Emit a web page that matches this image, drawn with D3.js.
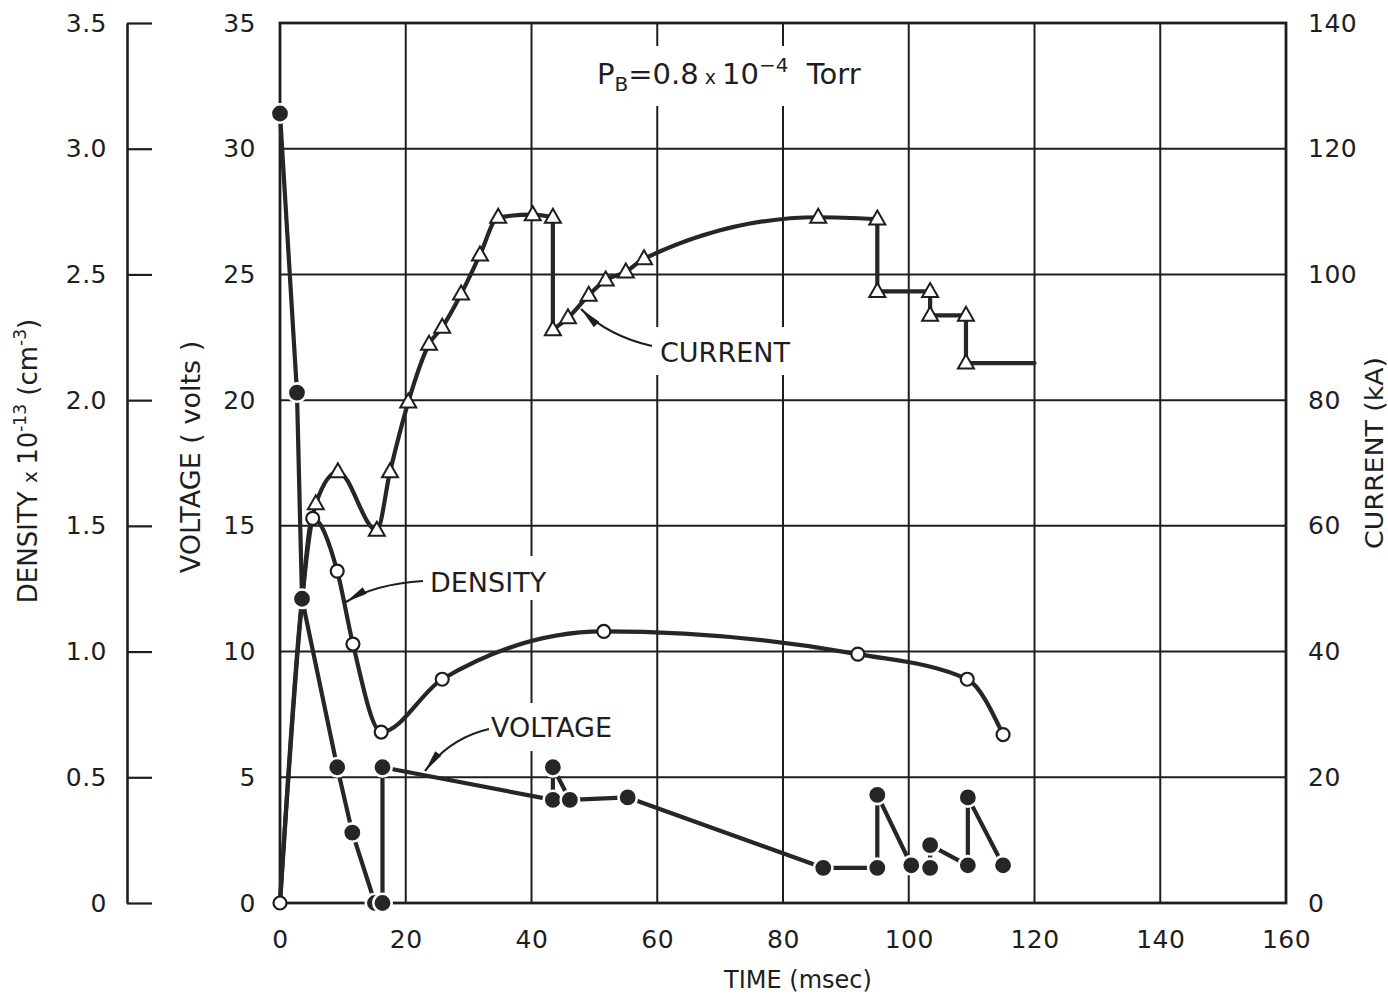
<!DOCTYPE html>
<html><head><meta charset="utf-8">
<script src="https://cdn.jsdelivr.net/npm/d3@7"></script>
<style>
html,body{margin:0;padding:0;background:#fff;}
svg{display:block;}
text{font-family:"DejaVu Sans",sans-serif;fill:#1e1e1e;}
</style></head><body>
<svg id="chart" width="1388" height="998"></svg>
<script>
// ---- axis ticks ----
const timeTicks = [0, 20, 40, 60, 80, 100, 120, 140, 160];
const voltTicks = [0, 5, 10, 15, 20, 25, 30, 35];
const densityTicks = [0, 0.5, 1.0, 1.5, 2.0, 2.5, 3.0, 3.5];
const currentTicks = [0, 20, 40, 60, 80, 100, 120, 140];

// ---- voltage (volts); null marks a break in the trace ----
const voltageTime  = [0, 2.7, 3.5, 9.1, 11.5, 15.1, null, 16.3, 16.3, 43.4, 43.4, 46.1, 55.3, 86.4, 95.0, 95.0, 100.4, null, 103.4, 103.4, 109.4, 109.4, 115.0];
const voltageValue = [31.4, 20.3, 12.1, 5.4, 2.8, 0, null, 0, 5.4, 4.1, 5.4, 4.1, 4.2, 1.4, 1.4, 4.3, 1.5, null, 1.4, 2.3, 1.5, 4.2, 1.5];

// ---- density (x 10^13 cm^-3) ----
const densityTime  = [0, 3.5, 5.2, 9.1, 11.6, 16.1, 25.8, 51.5, 91.9, 109.3, 115.0];
const densityValue = [0, 1.21, 1.53, 1.32, 1.03, 0.68, 0.89, 1.08, 0.99, 0.89, 0.67];

// ---- current (kA) ----
const currentTime  = [0, 5.7, 9.2, 15.4, 17.5, 20.4, 23.7, 25.8, 28.8, 31.8, 34.7, 40.2, 43.4, 43.4, 45.8, 49.1, 51.8, 55.0, 57.9, 85.6, 95.0, 95.0, 103.4, 103.4, 109.1, 109.1, 120.0];
const currentValue = [0, 63.5, 68.6, 59.3, 68.6, 79.7, 88.9, 91.6, 96.9, 103.1, 109.1, 109.5, 109.1, 91.2, 93.1, 96.7, 99.1, 100.4, 102.5, 109.1, 108.8, 97.3, 97.3, 93.5, 93.5, 85.9, 85.9];

const INK = "#1e1e1e";
const svg = d3.select("#chart");

const x  = d3.scaleLinear().domain([0, 160]).range([280, 1286]);
const yV = d3.scaleLinear().domain([0, 35]).range([903, 23]);
const yD = d3.scaleLinear().domain([0, 3.5]).range([903, 23]);
const yI = d3.scaleLinear().domain([0, 140]).range([903, 23]);

// ---- grid ----
const grid = svg.append("g").attr("stroke", INK).attr("stroke-width", 2);
grid.selectAll("line.v").data(timeTicks.slice(1, -1)).join("line")
  .attr("x1", d => x(d)).attr("x2", d => x(d))
  .attr("y1", yV(35)).attr("y2", yV(0));
grid.selectAll("line.h").data(voltTicks.slice(1, -1)).join("line")
  .attr("y1", d => yV(d)).attr("y2", d => yV(d))
  .attr("x1", x(0)).attr("x2", x(160));
svg.append("rect")
  .attr("x", x(0)).attr("y", yV(35))
  .attr("width", x(160) - x(0)).attr("height", yV(0) - yV(35))
  .attr("fill", "none").attr("stroke", INK).attr("stroke-width", 2.8);

// ---- axes ----
function styleAxis(g, size) {
  g.selectAll("text").attr("font-size", size).attr("fill", INK)
    .attr("font-family", "DejaVu Sans, sans-serif").attr("letter-spacing", 0.5);
}
const gV = svg.append("g").attr("transform", `translate(${x(0)},0)`)
  .call(d3.axisLeft(yV).tickValues(voltTicks).tickSize(0).tickPadding(24).tickFormat(d3.format("d")));
gV.select(".domain").remove();
styleAxis(gV, 25);

const gI = svg.append("g").attr("transform", `translate(${x(160)},0)`)
  .call(d3.axisRight(yI).tickValues(currentTicks).tickSize(0).tickPadding(22).tickFormat(d3.format("d")));
gI.select(".domain").remove();
styleAxis(gI, 25);

const gT = svg.append("g").attr("transform", `translate(0,${yV(0)})`)
  .call(d3.axisBottom(x).tickValues(timeTicks).tickSize(0).tickPadding(27).tickFormat(d3.format("d")));
gT.select(".domain").remove();
styleAxis(gT, 25);

const gD = svg.append("g").attr("transform", "translate(127,0)")
  .call(d3.axisRight(yD).tickValues(densityTicks).tickSize(25).tickSizeOuter(0)
    .tickFormat(d => d === 0 ? "0" : d3.format(".1f")(d)));
gD.select(".domain").attr("stroke", INK).attr("stroke-width", 2.6);
gD.selectAll(".tick line").attr("stroke", INK).attr("stroke-width", 2.2);
gD.selectAll("text").attr("x", -20).attr("text-anchor", "end");
styleAxis(gD, 25);

// ---- axis titles ----
const tD = svg.append("text").attr("transform", "translate(37,461) rotate(-90)")
  .attr("text-anchor", "middle").attr("font-size", 26);
tD.append("tspan").text("DENSITY ");
tD.append("tspan").attr("font-size", 20).text("x ");
tD.append("tspan").text("10");
tD.append("tspan").attr("font-size", 17).attr("dy", -11).text("-13");
tD.append("tspan").attr("dy", 11).text(" (cm");
tD.append("tspan").attr("font-size", 17).attr("dy", -11).text("-3");
tD.append("tspan").attr("dy", 11).text(")");

svg.append("text").attr("transform", "translate(200,457) rotate(-90)")
  .attr("text-anchor", "middle").attr("font-size", 27)
  .attr("xml:space", "preserve").text("VOLTAGE ( volts )");

svg.append("text").attr("transform", "translate(1383,453) rotate(-90)")
  .attr("text-anchor", "middle").attr("font-size", 24)
  .attr("font-family", "DejaVu Sans Condensed, Liberation Sans Narrow, DejaVu Sans, sans-serif")
  .attr("textLength", 192).attr("lengthAdjust", "spacingAndGlyphs")
  .text("CURRENT (kA)");

svg.append("text").attr("x", 798).attr("y", 988).attr("text-anchor", "middle")
  .attr("font-size", 24).text("TIME (msec)");

// ---- white boxes behind in-plot labels (break the grid) ----
const boxes = [[590, 46, 282, 60], [408, 556, 150, 44], [650, 327, 152, 48], [486, 703, 140, 48]];
svg.append("g").selectAll("rect").data(boxes).join("rect")
  .attr("x", d => d[0]).attr("y", d => d[1]).attr("width", d => d[2]).attr("height", d => d[3])
  .attr("fill", "#fff");

// ---- data lines ----
const lines = svg.append("g").attr("fill", "none").attr("stroke", "#262626")
  .attr("stroke-width", 4.2).attr("stroke-linecap", "round").attr("stroke-linejoin", "round");

// split a series into smooth runs and vertical steps
function pieces(ts, vs) {
  const pts = ts.map((t, i) => [t, vs[i]]);
  const out = [];
  let cur = [pts[0]];
  for (let i = 1; i < pts.length; i++) {
    if (pts[i][0] === pts[i - 1][0]) {
      if (cur.length > 1) out.push({ pts: cur, smooth: true });
      out.push({ pts: [pts[i - 1], pts[i]], smooth: false });
      cur = [pts[i]];
    } else cur.push(pts[i]);
  }
  if (cur.length > 1) out.push({ pts: cur, smooth: true });
  return out;
}

const lineI = d3.line().x(d => x(d[0])).y(d => yI(d[1]));
pieces(currentTime, currentValue).forEach(p => {
  lines.append("path").attr("d", lineI.curve(p.smooth ? d3.curveMonotoneX : d3.curveLinear)(p.pts));
});

const lineD = d3.line().x(d => x(d[0])).y(d => yD(d[1])).curve(d3.curveMonotoneX);
lines.append("path").attr("d", lineD(densityTime.map((t, i) => [t, densityValue[i]])));

const lineV = d3.line().defined(d => d[0] !== null).x(d => x(d[0])).y(d => yV(d[1]));
lines.append("path").attr("d", lineV(voltageTime.map((t, i) => [t, voltageValue[i]])));

// ---- markers ----
const marks = svg.append("g");
// current: open triangles (the start at the origin and the trace end carry none)
const tri = "M0,-8.5L8,5.5L-8,5.5Z";
marks.selectAll("path.cur").data(currentTime.map((t, i) => [t, currentValue[i]]).slice(1, -1)).join("path")
  .attr("d", tri).attr("transform", d => `translate(${x(d[0])},${yI(d[1])})`)
  .attr("fill", "#fff").attr("stroke", INK).attr("stroke-width", 2);
// density: open circles
marks.selectAll("circle.den").data(densityTime.map((t, i) => [t, densityValue[i]])).join("circle")
  .attr("cx", d => x(d[0])).attr("cy", d => yD(d[1])).attr("r", 6.5)
  .attr("fill", "#fff").attr("stroke", INK).attr("stroke-width", 2.2);
// voltage: filled dots with a white rim that leaves a gap to the trace
marks.selectAll("circle.volt").data(voltageTime.map((t, i) => [t, voltageValue[i]]).filter(d => d[0] !== null)).join("circle")
  .attr("cx", d => x(d[0])).attr("cy", d => yV(d[1])).attr("r", 9.2)
  .attr("fill", "#262626").attr("stroke", "#fff").attr("stroke-width", 2.6);

// ---- labels and arrows ----
const defs = svg.append("defs");
defs.append("marker").attr("id", "head").attr("markerUnits", "userSpaceOnUse")
  .attr("viewBox", "-24 -6 26 12").attr("refX", 0).attr("refY", 0)
  .attr("markerWidth", 26).attr("markerHeight", 12).attr("orient", "auto")
  .append("path").attr("d", "M0,0L-22,-3.8L-22,3.8Z").attr("fill", INK);

svg.append("text").attr("x", 430).attr("y", 592).attr("font-size", 27).text("DENSITY");
svg.append("text").attr("x", 660).attr("y", 362).attr("font-size", 27).text("CURRENT");
svg.append("text").attr("x", 491).attr("y", 737).attr("font-size", 27).text("VOLTAGE");

const arrows = svg.append("g").attr("fill", "none").attr("stroke", INK).attr("stroke-width", 2.2);
arrows.append("path").attr("d", "M423,581 Q375,584 346,602").attr("marker-end", "url(#head)");
arrows.append("path").attr("d", "M489,729 Q450,738 425,771").attr("marker-end", "url(#head)");
arrows.append("path").attr("d", "M652,346 Q608,336 581,309").attr("marker-end", "url(#head)");

// pressure note
const pb = svg.append("text").attr("x", 597).attr("y", 84).attr("font-size", 29);
pb.append("tspan").text("P");
pb.append("tspan").attr("font-size", 20).attr("dy", 7).text("B");
pb.append("tspan").attr("dy", -7).text("=0.8");
pb.append("tspan").attr("font-size", 19).text(" x ");
pb.append("tspan").text("10");
pb.append("tspan").attr("font-size", 20).attr("dy", -12).text("−4");
pb.append("tspan").attr("dy", 12).attr("xml:space", "preserve").text("  Torr");
</script>
</body></html>
